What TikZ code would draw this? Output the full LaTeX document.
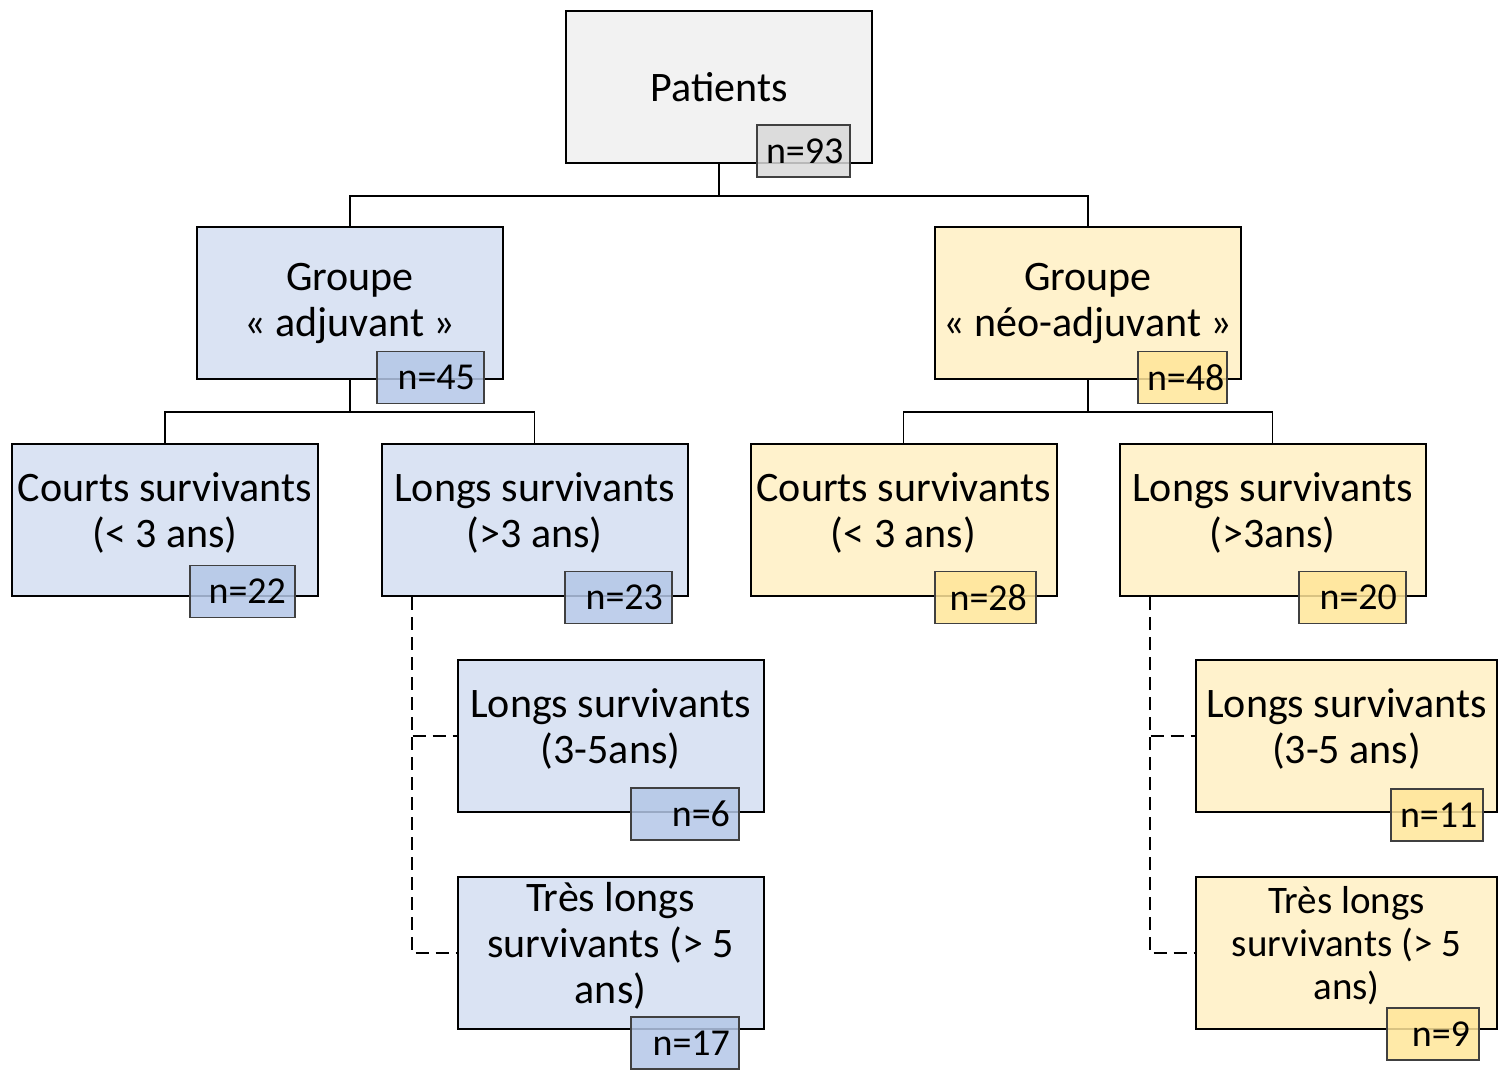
\documentclass[tikz,border=0pt]{standalone}
\usepackage{fontspec}
\setmainfont{Carlito}
\usepackage{xcolor}
\usepackage{tikz}
\usetikzlibrary{calc}

\definecolor{grisfond}{HTML}{F2F2F2}
\definecolor{grisn}{HTML}{D9D9D9}
\definecolor{bleufond}{HTML}{DAE3F3}
\definecolor{bleun}{HTML}{B4C7E7}
\definecolor{jaunefond}{HTML}{FFF2CC}
\definecolor{jaunen}{HTML}{FFE699}

\begin{document}
\begin{tikzpicture}[x=0.5pt,y=-0.5pt,
    grpbox/.style={draw=black,line width=1pt,fill=#1,minimum width=153pt,minimum height=76pt,
        inner sep=0pt,align=center,font=\fontsize{21}{23}\selectfont},
    survbox/.style={grpbox=#1,text depth=10pt},
    nbox/.style={draw=black!75,line width=0.6pt,fill=#1,fill opacity=0.85,text opacity=1,
        minimum height=26pt,inner sep=0pt,align=right,font=\fontsize{19}{21}\selectfont},
    nw/.style={minimum width={#1*0.5pt},text width={#1*0.5pt-9pt}},
    lien/.style={line width=0.75pt},
    lienpt/.style={line width=1pt,dash pattern=on 6.5pt off 3.5pt}]

\useasboundingbox (0,0) rectangle (1498,1074);

% niveau 1
\node[grpbox=grisfond] (pat) at (719,87) {Patients};
% niveau 2
\node[grpbox=bleufond] (adj) at (350,303) {Groupe\\« adjuvant »};
\node[grpbox=jaunefond] (neo) at (1088,303) {Groupe\\« néo-adjuvant »};
% niveau 3
\node[survbox=bleufond] (adjc) at (165,520) {Courts survivants\\(< 3 ans)};
\node[survbox=bleufond] (adjl) at (534.5,520) {Longs survivants\\(>3 ans)};
\node[survbox=jaunefond] (neoc) at (903.5,520) {Courts survivants\\(< 3 ans)};
\node[survbox=jaunefond] (neol) at (1272.5,520) {Longs survivants\\(>3ans)};
% niveau 4
\node[survbox=bleufond] (adjml) at (610.5,736) {Longs survivants\\(3-5ans)};
\node[survbox=bleufond] (adjtl) at (610.5,953) {Très longs\\survivants (> 5\\ans)};
\node[survbox=jaunefond,minimum width=150.5pt] (neoml) at (1346.5,736) {Longs survivants\\(3-5 ans)};
\node[survbox=jaunefond,minimum width=150.5pt,font=\fontsize{19.5}{21.5}\selectfont] (neotl) at (1346.5,953) {Très longs\\survivants (> 5\\ans)};

% liens
\draw[lien] (pat.south) -- ++(0,32) -| (adj.north);
\draw[lien] (pat.south) -- ++(0,32) -| (neo.north);
\draw[lien] (adj.south) -- ++(0,32) -| (adjc.north);
\draw[lien] (adj.south) -- ++(0,32) -| (adjl.north);
\draw[lien] (neo.south) -- ++(0,32) -| (neoc.north);
\draw[lien] (neo.south) -- ++(0,32) -| (neol.north);
\coordinate (adjd) at ([xshift=15.5pt]adjl.south west);
\coordinate (neod) at ([xshift=15.5pt]neol.south west);
\draw[lienpt] (adjd) |- (adjtl.west);
\draw[lienpt] (adjd) |- (adjml.west);
\draw[lienpt] (neod) |- (neotl.west);
\draw[lienpt] (neod) |- (neoml.west);

% effectifs
\node[nbox=grisn,nw=93] (n93) at (803.5,151) {n=93};
\node[nbox=bleun,nw=107] (n45) at (430.5,377.5) {n=45};
\node[nbox=jaunen,nw=89] (n48) at (1182.5,377.5) {n=48};
\node[nbox=bleun,nw=105] (n22) at (242.5,591.5) {n=22};
\node[nbox=bleun,nw=107] (n23) at (618.5,597.5) {n=23};
\node[nbox=jaunen,nw=101] (n28) at (985.5,597.5) {n=28};
\node[nbox=jaunen,nw=107] (n20) at (1352.5,597.5) {n=20};
\node[nbox=bleun,nw=108] (n6) at (685,814) {n=6};
\node[nbox=bleun,nw=108] (n17) at (685,1043) {n=17};
\node[nbox=jaunen,nw=92] (n11) at (1437,815) {n=11};
\node[nbox=jaunen,nw=92] (n9) at (1433,1034) {n=9};

\end{tikzpicture}
\end{document}
